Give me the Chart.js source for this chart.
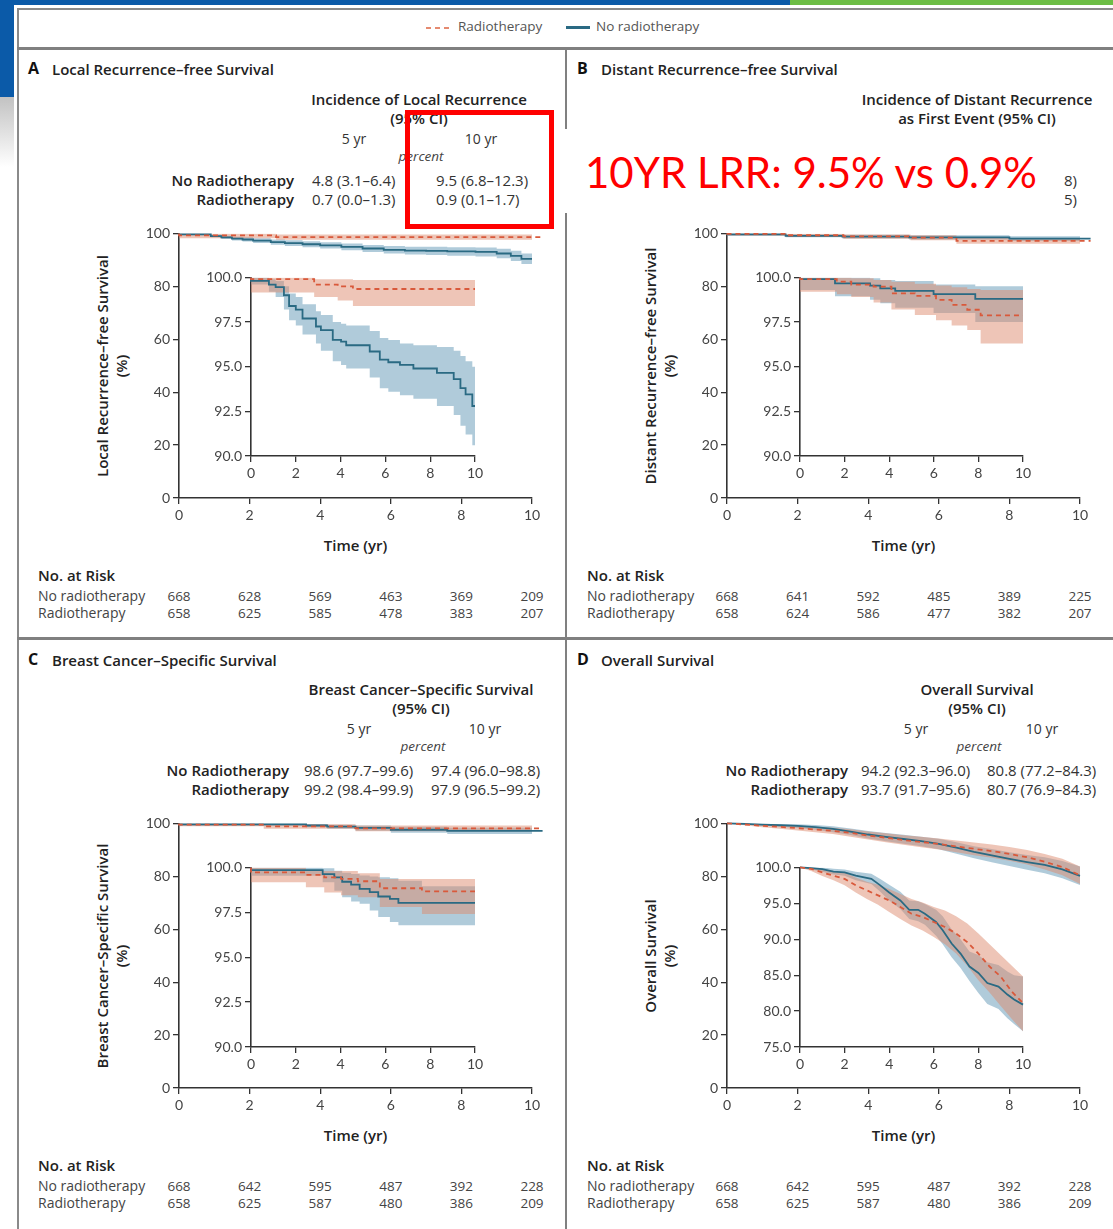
<!DOCTYPE html>
<html>
<head>
<meta charset="utf-8">
<script src="https://cdn.jsdelivr.net/npm/chart.js@4.4.0/dist/chart.umd.min.js"></script>
<style>
  body { margin: 0; width: 1113px; height: 1229px; overflow: hidden; background: #fff; position: relative;
         font-family: "Open Sans", Lato, sans-serif; color: #222; }
  .t { position: absolute; white-space: nowrap; line-height: 1.2; }
  .blk { position: absolute; }
</style>
</head>
<body>
<!-- page decoration -->
<div class="blk" style="left:0;top:0;width:790px;height:5px;background:#0b5aa8"></div>
<div class="blk" style="left:790px;top:0;width:323px;height:5px;background:#6cbd45"></div>
<div class="blk" style="left:0;top:0;width:14px;height:97px;background:#0b5aa8"></div>
<div class="blk" style="left:0;top:97px;width:14px;height:70px;background:linear-gradient(#c2c2c2,#fff)"></div>
<!-- figure frame -->
<div class="blk" style="left:17px;top:8px;width:1096px;height:2px;background:#8a8a8a"></div>
<div class="blk" style="left:17px;top:8px;width:2px;height:1221px;background:#8a8a8a"></div>
<div class="blk" style="left:17px;top:47px;width:1096px;height:3px;background:#808080"></div>
<div class="blk" style="left:565px;top:48px;width:2px;height:1181px;background:#808080"></div>
<div class="blk" style="left:17px;top:637px;width:1096px;height:3px;background:#808080"></div>
<!-- legend -->
<div class="blk" style="left:426px;top:27px;width:24px;height:2px;background:repeating-linear-gradient(90deg,#e58a70 0 5px,transparent 5px 9px)"></div>
<div class="t" style="left:458px;top:18px;font-size:13.5px;color:#555">Radiotherapy</div>
<div class="blk" style="left:566px;top:26px;width:24px;height:3px;background:#2a6a83"></div>
<div class="t" style="left:596px;top:18px;font-size:13.5px;color:#555">No radiotherapy</div>

<script>
// ---------- data ----------
const years = [0, 2, 4, 6, 8, 10];

// A: local recurrence-free survival, main plot
const aMainNoT  = [0, 0.9, 1.2, 1.5, 1.8, 2.1, 2.6, 3.0, 3.5, 4.0, 4.6, 5.2, 5.8, 6.4, 7.0, 7.6, 8.4, 9.0, 9.4, 9.7, 10.0, 10.25];
const aMainNoS  = [100, 99.6, 99.0, 98.5, 98.0, 97.7, 97.3, 96.7, 96.3, 95.9, 95.5, 94.9, 94.3, 93.8, 93.5, 93.4, 93.2, 93.0, 92.4, 91.5, 90.4, 90.2];
const aMainNoLo = [100, 99.3, 98.5, 97.9, 97.3, 96.9, 96.4, 95.7, 95.2, 94.8, 94.3, 93.6, 93.0, 92.4, 92.0, 91.8, 91.6, 91.3, 90.6, 89.6, 88.4, 88.2];
const aMainNoHi = [100, 99.9, 99.5, 99.1, 98.7, 98.5, 98.2, 97.7, 97.4, 97.0, 96.7, 96.2, 95.6, 95.2, 95.0, 95.0, 94.8, 94.7, 94.2, 93.4, 92.4, 92.2];
const aMainRtT  = [0, 2.75, 7.1, 10.25];
const aMainRtS  = [100, 99.25, 98.6, 98.6];
const aMainRtLo = [100, 98.2, 97.6, 97.6];
const aMainRtHi = [100, 100, 99.6, 99.6];
// A: inset
const aInsNoT  = [0, 0.8, 1.1, 1.47, 1.7, 2.0, 2.3, 2.9, 3.12, 3.65, 4.02, 4.25, 5.3, 5.75, 6.13, 6.65, 7.25, 8.3, 9.05, 9.35, 9.58, 9.88, 10];
const aInsNoS  = [100, 99.8, 99.6, 99.45, 99.0, 98.4, 98.2, 97.7, 97.25, 97.05, 96.5, 96.4, 96.2, 95.85, 95.4, 95.25, 95.1, 94.9, 94.65, 94.3, 93.8, 93.45, 92.8];
const aInsNoLo = [100, 99.6, 99.2, 98.9, 98.2, 97.6, 97.3, 96.8, 96.3, 95.9, 95.3, 95.1, 94.9, 94.4, 93.8, 93.6, 93.4, 93.2, 92.8, 92.3, 91.7, 91.2, 90.6];
const aInsNoHi = [100, 100, 99.9, 99.8, 99.5, 99.1, 98.9, 98.5, 98.1, 97.9, 97.5, 97.4, 97.3, 97.0, 96.6, 96.5, 96.3, 96.2, 96.1, 95.9, 95.6, 95.3, 95.0];
const aInsRtT  = [0, 2.82, 3.87, 4.55, 7.25, 10];
const aInsRtS  = [100, 99.9, 99.6, 99.5, 99.35, 99.35];
const aInsRtLo = [100, 99.15, 98.9, 98.7, 98.4, 98.4];
const aInsRtHi = [100, 100, 99.9, 99.9, 99.85, 99.85];

// B: distant recurrence-free survival, main plot
const bMainNoT  = [0, 1.66, 3.27, 5.16, 8.0, 9.9, 10.3];
const bMainNoS  = [100, 99.6, 99.1, 98.8, 98.5, 98.0, 98.0];
const bMainNoLo = [100, 99.1, 98.5, 98.1, 97.7, 97.1, 97.1];
const bMainNoHi = [100, 100, 99.7, 99.5, 99.3, 98.9, 98.9];
const bMainRtT  = [0, 1.7, 3.3, 5.2, 6.5, 8.77, 10.3];
const bMainRtS  = [100, 99.8, 99.3, 98.9, 98.4, 97.2, 97.2];
const bMainRtLo = [100, 99.2, 98.6, 98.0, 97.4, 96.1, 96.1];
const bMainRtHi = [100, 100, 99.9, 99.6, 99.3, 98.3, 98.3];
// B: inset
const bInsNoT  = [0, 1.57, 3.14, 3.6, 4.27, 5.99, 7.86, 9.8, 10];
const bInsNoS  = [100, 99.9, 99.67, 99.54, 99.39, 99.24, 99.06, 98.8, 98.8];
const bInsNoLo = [100, 99.3, 98.95, 98.75, 98.55, 98.3, 98.0, 97.5, 97.5];
const bInsNoHi = [100, 100, 100, 99.95, 99.85, 99.8, 99.6, 99.5, 99.5];
const bInsRtT  = [0, 1.65, 2.3, 3.3, 4.1, 5.15, 6.1, 6.8, 7.5, 8.1, 8.7, 10];
const bInsRtS  = [100, 99.9, 99.76, 99.6, 99.48, 99.1, 98.96, 98.74, 98.46, 98.19, 97.87, 97.87];
const bInsRtLo = [100, 99.2, 99.05, 98.9, 98.6, 98.2, 97.9, 97.6, 97.3, 97.05, 96.3, 96.3];
const bInsRtHi = [100, 100, 100, 99.95, 99.85, 99.75, 99.65, 99.55, 99.45, 99.35, 99.3, 99.3];

// C: breast cancer-specific survival, main plot
const cMainNoT  = [0, 3.6, 4.2, 5.0, 6.0, 7.6, 9.9, 10.3];
const cMainNoS  = [100, 99.6, 99.2, 98.8, 98.3, 97.6, 97.2, 97.2];
const cMainNoLo = [100, 99.1, 98.5, 98.0, 97.2, 96.5, 96.0, 96.0];
const cMainNoHi = [100, 100, 99.8, 99.5, 99.2, 98.7, 98.4, 98.4];
const cMainRtT  = [0, 2.4, 5.0, 8.0, 10.3];
const cMainRtS  = [100, 99.5, 98.9, 98.1, 98.1];
const cMainRtLo = [100, 98.9, 98.0, 97.0, 97.0];
const cMainRtHi = [100, 100, 99.7, 99.2, 99.2];
// C: inset
const cInsNoT  = [0, 3.2, 3.72, 4.07, 4.47, 4.85, 5.3, 5.68, 6.2, 6.58, 7.63, 8.7, 10];
const cInsNoS  = [100, 99.85, 99.63, 99.45, 99.2, 99.04, 98.8, 98.62, 98.38, 98.25, 98.03, 98.03, 98.03];
const cInsNoLo = [100, 99.54, 99.17, 98.7, 98.34, 98.1, 97.97, 97.6, 97.24, 96.96, 96.78, 96.78, 96.78];
const cInsNoHi = [100, 100, 99.95, 99.82, 99.7, 99.63, 99.55, 99.5, 99.45, 99.4, 99.26, 98.95, 98.95];
const cInsRtT  = [0, 2.45, 3.27, 4.02, 4.77, 5.75, 7.63, 8.6, 10];
const cInsRtS  = [100, 99.72, 99.58, 99.45, 99.36, 99.23, 98.84, 98.67, 98.67];
const cInsRtLo = [100, 99.17, 98.9, 98.6, 98.45, 98.34, 97.8, 97.4, 97.4];
const cInsRtHi = [100, 100, 99.8, 99.8, 99.8, 99.67, 99.36, 99.36, 99.36];

// D: overall survival, main plot
const dMainT    = [0, 0.5, 1, 1.5, 2, 2.5, 3, 3.5, 4, 4.5, 5, 5.5, 6, 6.5, 7, 7.5, 8, 8.5, 9, 9.5, 10, 10.3];
const dMainNoS  = [100, 99.8, 99.5, 99.3, 99.1, 98.6, 97.9, 96.9, 95.8, 94.9, 94.1, 93.3, 92.3, 90.8, 89.2, 87.9, 86.6, 85.4, 84.3, 82.6, 80.2, 79.6];
const dMainNoLo = [100, 99.6, 99.1, 98.7, 98.3, 97.6, 96.7, 95.6, 94.3, 93.3, 92.3, 91.4, 90.2, 88.5, 86.8, 85.3, 83.9, 82.5, 81.2, 79.3, 76.7, 76.1];
const dMainNoHi = [100, 100, 99.9, 99.8, 99.7, 99.4, 98.9, 98.1, 97.1, 96.4, 95.7, 95.0, 94.2, 92.9, 91.4, 90.3, 89.1, 88.1, 87.2, 85.8, 83.7, 83.1];
const dMainRtS  = [100, 99.6, 99.1, 98.7, 98.2, 97.7, 97.2, 96.4, 95.4, 94.6, 93.7, 93.0, 92.2, 91.3, 90.4, 89.5, 88.5, 87.2, 85.5, 83.5, 80.4, 79.9];
const dMainRtLo = [100, 99.3, 98.5, 98.0, 97.3, 96.7, 96.0, 95.0, 93.9, 92.9, 91.9, 91.0, 90.1, 89.1, 88.0, 87.0, 85.9, 84.5, 82.6, 80.4, 77.1, 76.5];
const dMainRtHi = [100, 99.9, 99.7, 99.4, 99.1, 98.7, 98.4, 97.8, 96.9, 96.3, 95.5, 95.0, 94.3, 93.5, 92.8, 92.0, 91.1, 89.9, 88.4, 86.6, 83.7, 83.3];
// D: inset
const dInsNoT  = [0, 0.5, 1, 1.5, 2, 2.5, 3.2, 3.6, 4, 4.5, 4.9, 5.3, 5.6, 6.1, 6.4, 6.8, 7.2, 7.6, 8.0, 8.4, 8.9, 9.3, 9.6, 10];
const dInsNoS  = [100, 99.9, 99.77, 99.4, 99.3, 98.85, 98.4, 97.5, 96.5, 95.4, 94.1, 94.1, 93.55, 92.4, 91.25, 89.4, 88.0, 86.2, 85.3, 83.9, 83.4, 82.3, 81.6, 80.9];
const dInsNoLo = [100, 99.7, 99.4, 99.0, 98.85, 98.2, 97.7, 96.6, 95.4, 94.2, 92.8, 92.5, 92.0, 90.5, 89.3, 87.5, 86.0, 84.2, 82.5, 81.0, 80.3, 79.0, 78.2, 77.2];
const dInsNoHi = [100, 100, 100, 99.8, 99.7, 99.4, 99.1, 98.4, 97.6, 96.6, 95.4, 95.3, 94.9, 94.1, 93.2, 91.4, 90.0, 88.3, 87.8, 86.8, 86.4, 85.5, 85.0, 84.8];
const dInsRtT  = [0, 0.5, 1, 1.5, 2, 2.5, 3, 3.5, 4, 4.5, 5, 5.5, 6, 6.5, 7, 7.5, 8, 8.5, 9, 9.5, 10];
const dInsRtS  = [100, 99.8, 99.3, 98.85, 98.4, 97.5, 96.8, 96.1, 95.4, 94.5, 93.55, 93.1, 92.4, 91.7, 90.8, 89.6, 88.0, 86.2, 84.8, 82.7, 81.1];
const dInsRtLo = [100, 99.5, 98.8, 98.2, 97.5, 96.5, 95.6, 94.8, 93.8, 92.8, 91.9, 91.2, 90.3, 89.3, 88.0, 86.3, 84.3, 82.6, 80.7, 78.9, 77.2];
const dInsRtHi = [100, 100, 99.8, 99.5, 99.3, 98.6, 98.0, 97.6, 97.0, 96.3, 95.6, 95.1, 94.5, 94.0, 93.2, 92.2, 90.8, 89.3, 87.8, 86.3, 84.8];

// numbers at risk
const aRiskNo = [668, 628, 569, 463, 369, 209];
const aRiskRt = [658, 625, 585, 478, 383, 207];
const bRiskNo = [668, 641, 592, 485, 389, 225];
const bRiskRt = [658, 624, 586, 477, 382, 207];
const cRiskNo = [668, 642, 595, 487, 392, 228];
const cRiskRt = [658, 625, 587, 480, 386, 209];
const dRiskNo = [668, 642, 595, 487, 392, 228];
const dRiskRt = [658, 625, 587, 480, 386, 209];

// inset tables
const aTable = [['4.8 (3.1–6.4)', '9.5 (6.8–12.3)'], ['0.7 (0.0–1.3)', '0.9 (0.1–1.7)']];
const cTable = [['98.6 (97.7–99.6)', '97.4 (96.0–98.8)'], ['99.2 (98.4–99.9)', '97.9 (96.5–99.2)']];
const dTable = [['94.2 (92.3–96.0)', '80.8 (77.2–84.3)'], ['93.7 (91.7–95.6)', '80.7 (76.9–84.3)']];

// ---------- drawing ----------
Chart.defaults.font.family = 'Lato, "Open Sans", sans-serif';
Chart.defaults.font.size = 14;
Chart.defaults.color = '#444';

const TEAL = '#2a6a83';
const RED = '#d9593b';
const TEAL_BAND = 'rgba(112,160,188,0.55)';
const RED_BAND = 'rgba(222,140,112,0.5)';
const YW = 46, XH = 30, PT = 10, PR = 18;

function put(x, y, s, css, align) {
  const d = document.createElement('div');
  d.className = 't';
  d.textContent = s;
  d.style.cssText = css || '';
  d.style.left = x + 'px';
  d.style.top = y + 'px';
  const tx = align === 'c' ? '-50%' : align === 'r' ? '-100%' : '0';
  d.style.transform = 'translate(' + tx + ',-50%)';
  document.body.appendChild(d);
  return d;
}

function makeKM(box, yMin, yMax, yStep, inset, rt, no, stepped) {
  const cv = document.createElement('canvas');
  const W = box.r - box.l + YW + PR, H = box.b - box.t + PT + XH;
  const left = box.l - YW;
  cv.width = W; cv.height = H;
  cv.style.cssText = 'position:absolute;left:' + left + 'px;top:' + (box.t - PT) + 'px;width:' + W + 'px;height:' + H + 'px';
  document.body.appendChild(cv);

  const pts = (t, v) => t.map((x, i) => ({ x: x, y: v[i] }));
  const line = (d, col, dash) => ({ data: pts(d.t, d.s), borderColor: col, borderWidth: 1.8, borderDash: dash,
    stepped: stepped, pointRadius: 0, fill: false, clip: false });
  const edge = (d, v, fill, col) => ({ data: pts(d.t, v), borderWidth: 0, borderColor: 'rgba(0,0,0,0)',
    backgroundColor: col, stepped: stepped, pointRadius: 0, fill: fill, clip: false });

  const axisGrid = { drawOnChartArea: false, tickLength: 6, color: '#333', lineWidth: 1.3 };
  const axisBorder = { color: '#333', width: 1.6 };

  const chart = new Chart(cv, {
    type: 'line',
    data: {
      datasets: [
        line(rt, RED, [5, 4]),
        line(no, TEAL, []),
        edge(rt, rt.lo, false, RED_BAND),
        edge(rt, rt.hi, { target: 2, above: RED_BAND, below: RED_BAND }, RED_BAND),
        edge(no, no.lo, false, TEAL_BAND),
        edge(no, no.hi, { target: 4, above: TEAL_BAND, below: TEAL_BAND }, TEAL_BAND)
      ]
    },
    options: {
      responsive: false,
      animation: false,
      layout: { padding: { left: 0, top: PT, right: PR, bottom: 0 } },
      plugins: { legend: { display: false }, tooltip: { enabled: false } },
      scales: {
        x: { type: 'linear', min: 0, max: 10,
             ticks: { stepSize: 2, padding: 3 },
             grid: axisGrid, border: axisBorder,
             afterFit: s => { s.height = XH; } },
        y: { min: yMin, max: yMax,
             ticks: { stepSize: yStep, padding: 3, callback: v => inset ? v.toFixed(1) : v },
             grid: axisGrid, border: axisBorder,
             afterFit: s => { s.width = YW; } }
      }
    }
  });
  return { chart: chart, left: left };
}

function panel(p) {
  const m = makeKM(p.main, 0, 100, 20, false, p.mainRt, p.mainNo, p.stepped);
  makeKM(p.ins, p.insMin, 100, p.insStep, true, p.insRt, p.insNo, p.stepped);

  const bx = p.main;
  put(p.tx, p.ty, p.letter, 'font-weight:700;font-size:16px;color:#111');
  put(p.tx + 24, p.ty, p.title, 'font-weight:600;font-size:15px;color:#222');

  // y axis title
  const yt = 'font-weight:600;font-size:15px;color:#222;';
  const ymid = (bx.t + bx.b) / 2 + 1;
  const t1 = put(bx.l - 77, ymid, p.ytitle, yt, 'c');
  t1.style.transform = 'translate(-50%,-50%) rotate(-90deg)';
  const t2 = put(bx.l - 58, ymid, '(%)', yt, 'c');
  t2.style.transform = 'translate(-50%,-50%) rotate(-90deg)';

  put((bx.l + bx.r) / 2, bx.b + 47, 'Time (yr)', 'font-weight:600;font-size:15px;color:#222', 'c');

  // numbers at risk
  const ry = bx.b + 77;
  put(p.tx + 10, ry, 'No. at Risk', 'font-weight:600;font-size:15px;color:#222');
  put(p.tx + 10, ry + 21, 'No radiotherapy', 'font-size:14px;color:#444');
  put(p.tx + 10, ry + 38, 'Radiotherapy', 'font-size:14px;color:#444');
  years.forEach((yr, i) => {
    const x = m.left + m.chart.scales.x.getPixelForValue(yr);
    put(x, ry + 21, String(p.riskNo[i]), 'font-size:13.5px;color:#444', 'c');
    put(x, ry + 38, String(p.riskRt[i]), 'font-size:13.5px;color:#444', 'c');
  });
}

function table(t) {
  const hd = 'font-weight:600;font-size:15px;color:#222';
  t.head.forEach((h, i) => put(t.cx, t.y0 + 19 * i, h, hd, 'c'));
  if (!t.rows) return;
  put(t.c1, t.y0 + 40, '5 yr', 'font-size:14px;color:#333', 'c');
  put(t.c2, t.y0 + 40, '10 yr', 'font-size:14px;color:#333', 'c');
  put(t.cx + 2, t.y0 + 57, 'percent', 'font-style:italic;font-size:13.5px;color:#444', 'c');
  ['No Radiotherapy', 'Radiotherapy'].forEach((lab, i) => {
    const y = t.y0 + 81 + 19 * i;
    put(t.lr, y, lab, hd, 'r');
    put(t.v1, y, t.rows[i][0], 'font-size:15px;color:#333');
    put(t.v2, y, t.rows[i][1], 'font-size:15px;color:#333');
  });
}

const S = (t, s, lo, hi) => ({ t: t, s: s, lo: lo, hi: hi });

panel({ letter: 'A', title: 'Local Recurrence–free Survival', tx: 28, ty: 69, stepped: 'after',
  ytitle: 'Local Recurrence–free Survival',
  main: { l: 179, r: 532, t: 232, b: 498 }, ins: { l: 251, r: 475, t: 276, b: 456 }, insMin: 90, insStep: 2.5,
  mainNo: S(aMainNoT, aMainNoS, aMainNoLo, aMainNoHi), mainRt: S(aMainRtT, aMainRtS, aMainRtLo, aMainRtHi),
  insNo: S(aInsNoT, aInsNoS, aInsNoLo, aInsNoHi), insRt: S(aInsRtT, aInsRtS, aInsRtLo, aInsRtHi),
  riskNo: aRiskNo, riskRt: aRiskRt });
panel({ letter: 'B', title: 'Distant Recurrence–free Survival', tx: 577, ty: 69, stepped: 'after',
  ytitle: 'Distant Recurrence–free Survival',
  main: { l: 727, r: 1080, t: 232, b: 498 }, ins: { l: 800, r: 1023, t: 276, b: 456 }, insMin: 90, insStep: 2.5,
  mainNo: S(bMainNoT, bMainNoS, bMainNoLo, bMainNoHi), mainRt: S(bMainRtT, bMainRtS, bMainRtLo, bMainRtHi),
  insNo: S(bInsNoT, bInsNoS, bInsNoLo, bInsNoHi), insRt: S(bInsRtT, bInsRtS, bInsRtLo, bInsRtHi),
  riskNo: bRiskNo, riskRt: bRiskRt });
panel({ letter: 'C', title: 'Breast Cancer–Specific Survival', tx: 28, ty: 660, stepped: 'after',
  ytitle: 'Breast Cancer–Specific Survival',
  main: { l: 179, r: 532, t: 822, b: 1088 }, ins: { l: 251, r: 475, t: 866, b: 1047 }, insMin: 90, insStep: 2.5,
  mainNo: S(cMainNoT, cMainNoS, cMainNoLo, cMainNoHi), mainRt: S(cMainRtT, cMainRtS, cMainRtLo, cMainRtHi),
  insNo: S(cInsNoT, cInsNoS, cInsNoLo, cInsNoHi), insRt: S(cInsRtT, cInsRtS, cInsRtLo, cInsRtHi),
  riskNo: cRiskNo, riskRt: cRiskRt });
panel({ letter: 'D', title: 'Overall Survival', tx: 577, ty: 660, stepped: false,
  ytitle: 'Overall Survival',
  main: { l: 727, r: 1080, t: 822, b: 1088 }, ins: { l: 800, r: 1023, t: 866, b: 1047 }, insMin: 75, insStep: 5,
  mainNo: S(dMainT, dMainNoS, dMainNoLo, dMainNoHi), mainRt: S(dMainT, dMainRtS, dMainRtLo, dMainRtHi),
  insNo: S(dInsNoT, dInsNoS, dInsNoLo, dInsNoHi), insRt: S(dInsRtT, dInsRtS, dInsRtLo, dInsRtHi),
  riskNo: dRiskNo, riskRt: dRiskRt });

table({ head: ['Incidence of Local Recurrence', '(95% CI)'], y0: 99, cx: 419, c1: 354, c2: 481, lr: 294, v1: 312, v2: 436, rows: aTable });
table({ head: ['Incidence of Distant Recurrence', 'as First Event (95% CI)'], y0: 99, cx: 977 });
table({ head: ['Breast Cancer–Specific Survival', '(95% CI)'], y0: 689, cx: 421, c1: 359, c2: 485, lr: 289, v1: 304, v2: 431, rows: cTable });
table({ head: ['Overall Survival', '(95% CI)'], y0: 689, cx: 977, c1: 916, c2: 1042, lr: 848, v1: 861, v2: 987, rows: dTable });

// fragments of panel B table left visible beside the overlay
put(1064, 180, '8)', 'font-size:15px;color:#333');
put(1064, 199, '5)', 'font-size:15px;color:#333');

// annotation overlay
const wb = document.createElement('div');
wb.className = 'blk';
wb.style.cssText = 'left:560px;top:129px;width:500px;height:84px;background:#fff';
document.body.appendChild(wb);
put(585, 172, '10YR LRR: 9.5% vs 0.9%', 'font-size:42px;color:#f00;font-family:Lato,"Open Sans",sans-serif');
const rb = document.createElement('div');
rb.className = 'blk';
rb.style.cssText = 'left:405px;top:110px;width:149px;height:119px;border:5px solid #f00;box-sizing:border-box';
document.body.appendChild(rb);
</script>
</body>
</html>
